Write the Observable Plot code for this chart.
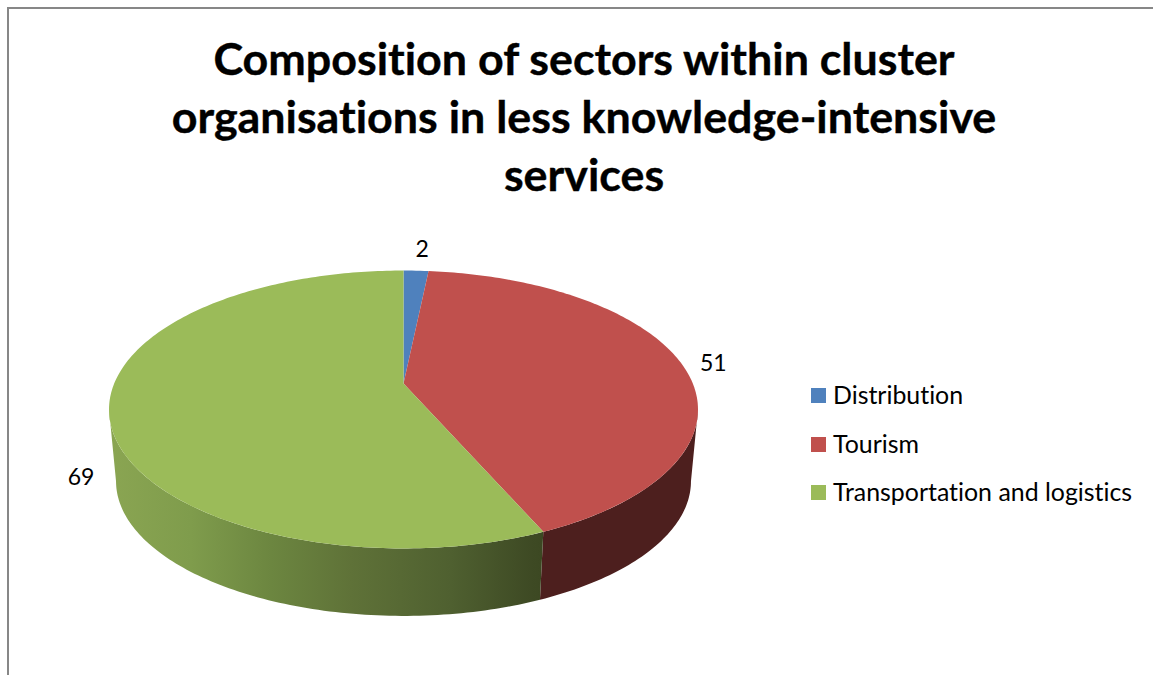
<!DOCTYPE html>
<html><head><meta charset="utf-8">
<script src="https://cdn.jsdelivr.net/npm/d3@7"></script>
<script src="https://cdn.jsdelivr.net/npm/@observablehq/plot@0.6"></script>
<style>
html,body{margin:0;padding:0;background:#fff;overflow:hidden}
#wrap{position:relative;width:1153px;height:675px;font-family:Lato,"Open Sans",sans-serif;color:#000;font-variant-ligatures:none}
#frame{position:absolute;left:7px;top:7px;right:0;bottom:0;border-left:2px solid #878787;border-top:2px solid #878787}
#title{position:absolute;left:0;top:29px;width:1168px;margin:0;text-align:center;font-size:44.8px;line-height:58px;font-weight:700;-webkit-text-stroke:0.4px #000}
#chart{position:absolute;left:0;top:220px}
#legend{position:absolute;left:811px;top:370px;font-size:24.9px}
.row{position:absolute;left:0;white-space:nowrap;height:28px;line-height:28px}
.sw{position:absolute;left:0;top:4px;width:15px;height:15px}
.lb{position:absolute;left:22px;top:-4px}
</style></head><body>
<div id="wrap"><div id="frame"></div>
<h1 id="title">Composition of sectors within cluster<br>organisations in less knowledge-intensive<br>services</h1>
<div id="chart"></div><div id="legend"></div></div>
<script>
const sectors = ["Distribution", "Tourism", "Transportation and logistics"];
const counts = [2, 51, 69];
const sectorColors = ["#4F81BD", "#C0504D", "#9BBB59"];
const labelNudges = [[6, -21], [32, 0], [-28, 66]];

const W = 790, H = 455, TOP = 220;
// Perspective view of the disc: k tilts the far rim away from the viewer.
const K = 0.187, CX = 403;
const topDisc = {a: 289.3, b: 134.1, cy: 383};
const baseDisc = {a: 282.4, b: 130, cy: 455.5};
const project = (disc, deg) => {
  const t = deg * Math.PI / 180, X = Math.sin(t), Z = Math.cos(t), w = 1 + K * Z;
  return {x: CX + disc.a * X / w, y: disc.cy - disc.b * Z / w};
};
const total = d3.sum(counts);
let acc = 0;
const slices = sectors.map((sector, i) => {
  const start = acc / total * 360; acc += counts[i];
  return {sector, count: counts[i], start, end: acc / total * 360, nudge: labelNudges[i]};
});
const rim = (disc, a0, a1) => {
  const n = Math.max(2, Math.ceil(Math.abs(a1 - a0)));
  return d3.range(n + 1).map(j => project(disc, a0 + (a1 - a0) * j / n));
};
const face = slices.flatMap(s => [
  {sector: s.sector, x: CX, y: topDisc.cy},
  ...rim(topDisc, s.start, s.end).map(p => ({sector: s.sector, ...p}))
]);
const wall = (a0, a1) => [...rim(topDisc, a0, a1), ...rim(baseDisc, a1, a0)];
const tour = slices[1];
// The wall's visible edges are the generators at the disc's horizontal extremes.
const limb = Math.asin(K) * 180 / Math.PI;
const labels = slices.map(s => {
  const p = project(topDisc, (s.start + s.end) / 2);
  return {text: String(s.count), x: p.x + s.nudge[0], y: p.y + s.nudge[1]};
});

const svg = Plot.plot({
  width: W, height: H, margin: 0,
  x: {domain: [0, W], range: [0, W], axis: null},
  y: {domain: [TOP, TOP + H], range: [0, H], axis: null},
  color: {domain: sectors, range: sectorColors},
  style: {background: "transparent", overflow: "visible"},
  marks: [
    Plot.line(wall(90 + limb, tour.end), {x: "x", y: "y", fill: "#4D1F1E", stroke: "none"}),
    Plot.line(wall(tour.end, 270 - limb), {x: "x", y: "y", fill: "url(#greenWall)", stroke: "none"}),
    Plot.line(face, {x: "x", y: "y", z: "sector", fill: "sector", stroke: "none"}),
    Plot.text(labels, {x: "x", y: "y", text: "text", fontSize: 23, fontFamily: "Lato, 'Open Sans', sans-serif", fill: "#000"})
  ]
});
const defs = document.createElementNS("http://www.w3.org/2000/svg", "defs");
defs.innerHTML = `<linearGradient id="greenWall" gradientUnits="userSpaceOnUse" x1="110" x2="543" y1="0" y2="0">
<stop offset="0" stop-color="#8AA552"/><stop offset="0.185" stop-color="#7F9C4C"/>
<stop offset="0.37" stop-color="#6C8640"/><stop offset="0.554" stop-color="#5F7238"/>
<stop offset="0.785" stop-color="#4F6030"/><stop offset="0.97" stop-color="#3E4A24"/><stop offset="1" stop-color="#3C4822"/></linearGradient>`;
svg.prepend(defs);
document.getElementById("chart").append(svg);

const legend = d3.select("#legend");
sectors.forEach((s, i) => {
  const r = legend.append("div").attr("class", "row").style("top", (14 + i * 48.5) + "px");
  r.append("div").attr("class", "sw").style("background", sectorColors[i]);
  r.append("div").attr("class", "lb").text(s);
});
</script></body></html>
